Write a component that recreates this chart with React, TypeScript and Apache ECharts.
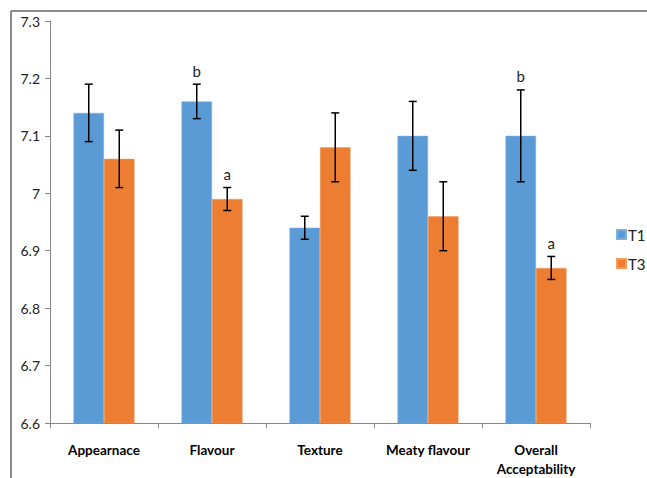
import React, { useEffect, useRef } from "react";
import * as echarts from "echarts";

const categories = ["Appearnace", "Flavour", "Texture", "Meaty flavour", "Overall\nAcceptability"];
const t1Values = [7.14, 7.16, 6.94, 7.1, 7.1];
const t3Values = [7.06, 6.99, 7.08, 6.96, 6.87];
const t1Err = [0.05, 0.03, 0.02, 0.06, 0.08];
const t3Err = [0.05, 0.02, 0.06, 0.06, 0.02];
const t1Letters = ["", "b", "", "", "b"];
const t3Letters = ["", "a", "", "", "a"];

const BAR_W = 30.5;
const FONT = "Lato, 'Liberation Sans', sans-serif";

function errSeries(name: string, vals: number[], errs: number[], letters: string[], offset: number) {
  return {
    type: "custom",
    name: name + "err",
    z: 10,
    silent: true,
    data: vals.map((v, i) => [i, v, errs[i], letters[i]]),
    renderItem: (params: any, api: any) => {
      const i = api.value(0);
      const v = api.value(1);
      const e = api.value(2);
      const letter = letters[i];
      const top = api.coord([i, v + e]);
      const bot = api.coord([i, v - e]);
      const x = top[0] + offset;
      const cap = 4;
      const style = { stroke: "#000", lineWidth: 1.5 };
      const children: any[] = [
        { type: "line", shape: { x1: x, y1: top[1], x2: x, y2: bot[1] }, style },
        { type: "line", shape: { x1: x - cap, y1: top[1], x2: x + cap, y2: top[1] }, style },
        { type: "line", shape: { x1: x - cap, y1: bot[1], x2: x + cap, y2: bot[1] }, style },
      ];
      if (letter) {
        children.push({
          type: "text",
          style: {
            text: letter,
            x: x,
            y: top[1] - 6,
            textAlign: "center",
            textVerticalAlign: "bottom",
            fill: "#222",
            font: "15px " + FONT,
          },
        });
      }
      return { type: "group", children };
    },
  };
}

export default function App() {
  const ref = useRef<HTMLDivElement>(null);
  useEffect(() => {
    const chart = echarts.init(ref.current!, null, { renderer: "svg" });
    chart.setOption({
      animation: false,
      backgroundColor: "#fff",
      textStyle: { fontFamily: FONT },
      grid: { left: 50, right: 57, top: 21, bottom: 55 },
      legend: {
        orient: "vertical",
        left: 616,
        top: 227,
        width: 31,
        itemWidth: 9,
        itemHeight: 9,
        itemGap: 14,
        icon: "rect",
        padding: 0,
        textStyle: { fontSize: 15, color: "#222", fontFamily: FONT, padding: [0, 0, 0, -3], width: 20, overflow: "none" },
        data: ["T1", "T3"],
      },
      xAxis: {
        type: "category",
        data: categories,
        axisLine: { lineStyle: { color: "#868686", width: 1 } },
        axisTick: { show: true, length: 5, alignWithLabel: false, lineStyle: { color: "#868686" } },
        axisLabel: {
          fontSize: 13.5,
          fontWeight: "bold",
          color: "#000",
          margin: 17,
          lineHeight: 19,
          interval: 0,
          fontFamily: FONT,
        },
      },
      yAxis: {
        type: "value",
        min: 6.6,
        max: 7.3,
        interval: 0.1,
        splitLine: { show: false },
        axisLine: { show: true, lineStyle: { color: "#868686", width: 1 } },
        axisTick: { show: true, length: 5, lineStyle: { color: "#868686" } },
        axisLabel: {
          fontSize: 14,
          color: "#222",
          margin: 10,
          fontFamily: FONT,
          formatter: (v: number) => String(Math.round(v * 10) / 10),
        },
      },
      series: [
        {
          name: "T1",
          type: "bar",
          data: t1Values,
          barWidth: BAR_W,
          barGap: "0%",
          itemStyle: { color: "#5B9BD5", borderColor: "#7EB1E0", borderWidth: 0.5 },
        },
        {
          name: "T3",
          type: "bar",
          data: t3Values,
          barWidth: BAR_W,
          barGap: "0%",
          itemStyle: { color: "#ED7D31", borderColor: "#F29A5E", borderWidth: 0.5 },
        },
        errSeries("T1", t1Values, t1Err, t1Letters, -BAR_W / 2),
        errSeries("T3", t3Values, t3Err, t3Letters, BAR_W / 2),
      ],
      graphic: [
        { type: "line", shape: { x1: 11, y1: 11, x2: 647, y2: 11 }, style: { stroke: "#666", lineWidth: 1.5 } },
        { type: "line", shape: { x1: 11, y1: 11, x2: 11, y2: 478 }, style: { stroke: "#666", lineWidth: 1.5 } },
      ],
    });
    return () => chart.dispose();
  }, []);
  return (
    <div
      ref={ref}
      style={{ position: "fixed", left: 0, top: 0, width: 647, height: 478 }}
    />
  );
}
